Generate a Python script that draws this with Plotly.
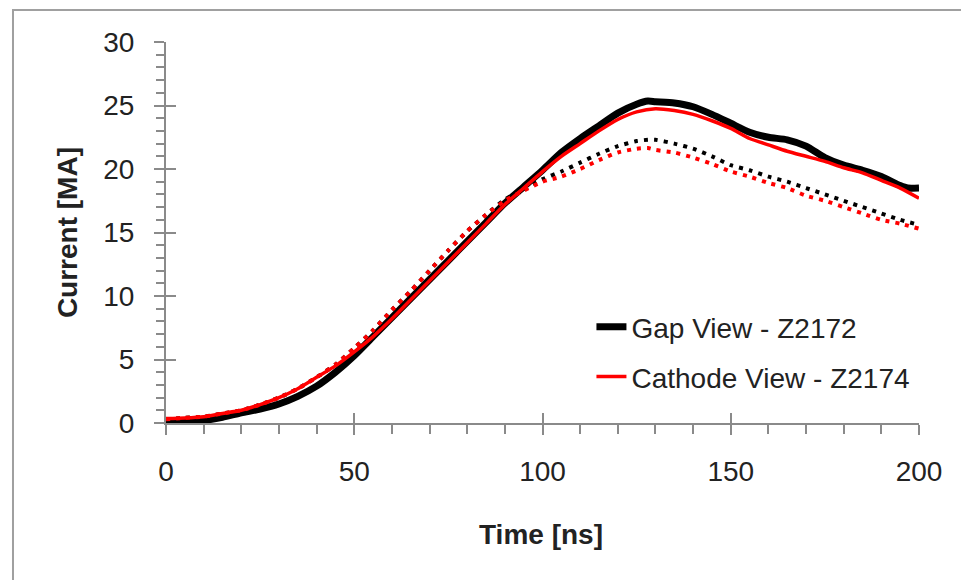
import plotly.graph_objects as go

# ---- data ----
t_gap = [0, 5, 10, 15, 20, 25, 30, 35, 40, 45, 50, 55, 60, 65, 70, 75, 80, 85, 90, 95,
         100, 105, 110, 115, 120, 125, 128, 130, 135, 140, 145, 150, 155, 160, 165, 170,
         175, 180, 185, 190, 195, 197, 200]
i_gap = [0.2, 0.15, 0.2, 0.45, 0.8, 1.1, 1.5, 2.1, 2.9, 4.0, 5.3, 6.8, 8.3, 9.8, 11.3, 12.8,
         14.3, 15.8, 17.3, 18.6, 19.9, 21.3, 22.4, 23.4, 24.4, 25.1, 25.35, 25.3, 25.2, 24.9,
         24.3, 23.6, 22.9, 22.5, 22.3, 21.8, 20.9, 20.3, 19.9, 19.4, 18.7, 18.5, 18.5]

t_cat = [0, 5, 10, 15, 20, 25, 30, 35, 40, 45, 50, 55, 60, 65, 70, 75, 80, 85, 90, 95,
         100, 105, 110, 115, 120, 125, 130, 135, 140, 145, 150, 155, 160, 165, 170, 175,
         180, 185, 190, 195, 200]
i_cat = [0.35, 0.4, 0.5, 0.75, 1.0, 1.45, 2.0, 2.7, 3.6, 4.5, 5.6, 6.8, 8.2, 9.7, 11.2, 12.7,
         14.2, 15.7, 17.2, 18.5, 19.8, 21.0, 22.0, 23.0, 23.9, 24.5, 24.75, 24.6, 24.3, 23.8,
         23.2, 22.4, 21.9, 21.4, 21.0, 20.6, 20.1, 19.7, 19.1, 18.5, 17.7]

t_dot = [0, 5, 10, 15, 20, 25, 30, 35, 40, 45, 50, 55, 60, 65, 70, 75, 80, 85, 90, 95,
         100, 105, 110, 115, 120, 125, 128, 130, 135, 140, 145, 150, 155, 160, 165, 170,
         175, 180, 185, 190, 195, 200]
i_gap_dot = [0.3, 0.4, 0.5, 0.75, 1.0, 1.45, 2.0, 2.7, 3.6, 4.6, 5.9, 7.3, 8.9, 10.4, 12.0,
             13.6, 15.1, 16.4, 17.6, 18.4, 19.2, 19.8, 20.5, 21.2, 21.8, 22.2, 22.3, 22.3,
             22.0, 21.6, 21.0, 20.3, 19.9, 19.4, 19.0, 18.5, 18.0, 17.5, 17.0, 16.5, 16.0, 15.6]
i_cat_dot = [0.3, 0.4, 0.5, 0.75, 1.0, 1.45, 2.0, 2.7, 3.6, 4.6, 5.9, 7.3, 8.9, 10.4, 12.0,
             13.6, 15.1, 16.4, 17.5, 18.3, 19.0, 19.4, 20.0, 20.7, 21.3, 21.6, 21.65, 21.5,
             21.3, 20.9, 20.4, 19.8, 19.4, 18.9, 18.5, 17.9, 17.5, 17.0, 16.5, 16.0, 15.7, 15.3]

x_ticks = [0, 50, 100, 150, 200]
y_ticks = [0, 5, 10, 15, 20, 25, 30]

FONT = "Liberation Sans, Arial, sans-serif"
TXT = "#222222"
AX = "#8a8a8a"

fig = go.Figure()
fig.add_trace(go.Scatter(x=t_gap, y=i_gap, mode="lines", name="Gap View - Z2172",
                         line=dict(color="black", width=7, shape="spline", smoothing=0.6),
                         legend="legend"))
fig.add_trace(go.Scatter(x=t_dot, y=i_gap_dot, mode="lines", showlegend=False,
                         line=dict(color="black", width=4, dash="4px,6px",
                                   shape="spline", smoothing=0.6)))
fig.add_trace(go.Scatter(x=t_cat, y=i_cat, mode="lines", name="Cathode View - Z2174",
                         line=dict(color="#ff0000", width=3.5, shape="spline", smoothing=0.6),
                         legend="legend2"))
fig.add_trace(go.Scatter(x=t_dot, y=i_cat_dot, mode="lines", showlegend=False,
                         line=dict(color="#ff0000", width=4, dash="4px,6px",
                                   shape="spline", smoothing=0.6)))
# empty helper trace to hold the overlay axes (inner half of crossing major ticks)
fig.add_trace(go.Scatter(x=[], y=[], xaxis="x2", yaxis="y2", showlegend=False,
                         hoverinfo="skip"))

fig.update_layout(
    width=961, height=580,
    margin=dict(l=166, r=42, t=42, b=157),
    paper_bgcolor="white", plot_bgcolor="white",
    font=dict(family=FONT, size=28, color=TXT),
    xaxis=dict(range=[0, 200], tickvals=x_ticks, showgrid=False, zeroline=False,
               showline=True, linecolor=AX, linewidth=2,
               ticks="outside", ticklen=10, tickwidth=2, tickcolor=AX,
               minor=dict(dtick=10, ticks="outside", ticklen=9, tickwidth=2, tickcolor=AX),
               tickfont=dict(family=FONT, size=28, color=TXT), ticklabelstandoff=12),
    yaxis=dict(range=[0, 30], tickvals=y_ticks, showgrid=False, zeroline=False,
               showline=True, linecolor=AX, linewidth=2,
               ticks="outside", ticklen=10, tickwidth=2, tickcolor=AX,
               minor=dict(dtick=1, ticks="outside", ticklen=8, tickwidth=2, tickcolor=AX),
               tickfont=dict(family=FONT, size=28, color=TXT), ticklabelstandoff=14),
    xaxis2=dict(range=[0, 200], tickvals=x_ticks, overlaying="x", anchor="y", side="bottom",
                showgrid=False, zeroline=False, showline=False, showticklabels=False,
                ticks="inside", ticklen=10, tickwidth=2, tickcolor=AX),
    yaxis2=dict(range=[0, 30], tickvals=y_ticks, overlaying="y", anchor="x", side="left",
                showgrid=False, zeroline=False, showline=False, showticklabels=False,
                ticks="inside", ticklen=10, tickwidth=2, tickcolor=AX),
    legend=dict(x=0.565, y=0.252, xanchor="left", yanchor="middle", bgcolor="rgba(0,0,0,0)",
                font=dict(family=FONT, size=28, color=TXT)),
    legend2=dict(x=0.565, y=0.121, xanchor="left", yanchor="middle", bgcolor="rgba(0,0,0,0)",
                 font=dict(family=FONT, size=28, color=TXT)),
    annotations=[
        dict(text="<b>Current [MA]</b>", xref="paper", yref="paper", x=-0.1315, y=0.501,
             textangle=-90, showarrow=False, xanchor="center", yanchor="middle",
             font=dict(family=FONT, size=28, color=TXT)),
        dict(text="<b>Time [ns]</b>", xref="paper", yref="paper", x=0.498, y=-0.292,
             showarrow=False, xanchor="center", yanchor="middle",
             font=dict(family=FONT, size=28, color=TXT)),
    ],
    shapes=[dict(type="rect", xref="paper", yref="paper", x0=-0.2032, y0=-0.6, x1=1.3, y1=1.084,
                 line=dict(color="#a0a0a0", width=2), fillcolor="rgba(0,0,0,0)", layer="below")],
)

fig.write_html("out.html")
